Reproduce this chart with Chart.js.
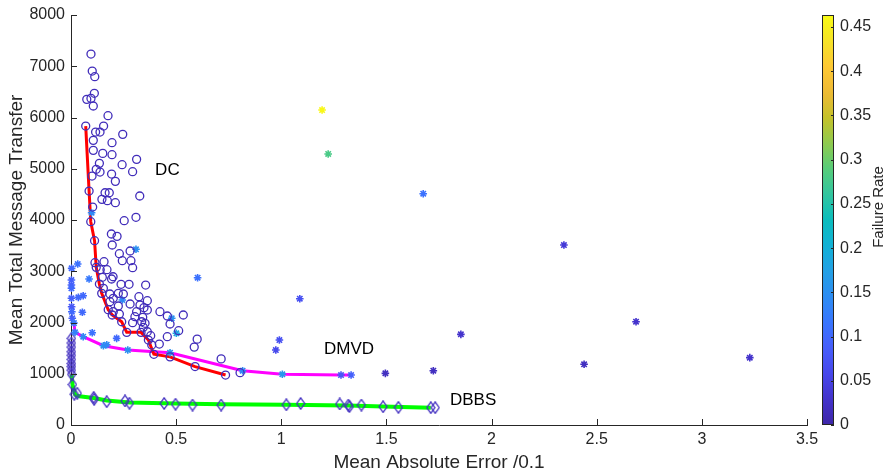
<!DOCTYPE html>
<html>
<head>
<meta charset="utf-8">
<script src="https://cdn.jsdelivr.net/npm/chart.js@4.4.1/dist/chart.umd.min.js"></script>
<style>
  html, body { margin: 0; padding: 0; background: #fff; }
  #wrap { width: 890px; height: 474px; position: relative; }
</style>
</head>
<body>
<div id="wrap"><canvas id="chart" width="890" height="474"></canvas></div>
<script>
// DC runs (circles)
const dcX = [0.095,0.101,0.113,0.111,0.075,0.095,0.106,0.176,0.070,0.155,0.117,0.138,0.246,0.106,0.195,0.106,0.151,0.195,0.312,0.135,
  0.243,0.120,0.138,0.293,0.100,0.193,0.211,0.086,0.162,0.182,0.327,0.147,0.173,0.211,0.103,0.309,0.253,0.094,0.112,0.192,
  0.219,0.196,0.281,0.230,0.244,0.285,0.114,0.157,0.293,0.120,0.139,0.171,0.200,0.149,0.193,0.238,0.276,0.355,0.154,0.135,
  0.146,0.185,0.225,0.249,0.201,0.185,0.323,0.363,0.281,0.225,0.177,0.328,0.347,0.201,0.230,0.312,0.304,0.363,0.341,0.423,
  0.458,0.534,0.471,0.512,0.458,0.293,0.336,0.352,0.344,0.265,0.333,0.363,0.379,0.368,0.420,0.384,0.394,0.471,0.590,0.600,
  0.586,0.714,0.735,0.804,0.241,0.196];
const dcY = [7238,6906,6796,6472,6354,6373,6224,6035,5833,5833,5716,5716,5671,5554,5508,5359,5300,5274,5183,5105,
  5079,4989,4936,4942,4858,4897,4754,4565,4532,4532,4468,4403,4377,4338,4253,4052,3986,3967,3596,3727,
  3681,3512,3395,3342,3206,3206,3167,3186,3069,3076,3030,3030,2893,2882,2849,2745,2745,2731,2667,2750,
  2569,2556,2569,2556,2472,2406,2503,2425,2361,2322,2250,2341,2290,2211,2166,2211,2113,2244,2101,2211,
  2127,2146,1971,1840,1723,1996,2015,1984,1906,1808,1808,1820,1742,1658,1580,1561,1380,1330,1140,1675,
  1520,1290,975,1021,2015,2146];
const dcFailRate = 0.015;

// DMVD runs (asterisks)
const dmvdX = [1.194,1.223,1.675,2.344,1.088,2.687,1.854,0.991,0.974,3.228,2.440,1.723,1.495,1.005,1.284,1.332,
  0.098,0.309,0.003,0.032,0.086,0.602,0.244,0.479,0.501,0.101,0.217,0.035,0.058,0.054,
  0.002,0.002,0.002,0.002,0.003,0.004,0.006,0.014,0.019,0.058,0.154,0.170,0.270,0.471,0.816];
const dmvdY = [6146,5288,4513,3512,2464,2015,1769,1658,1463,1314,1184,1060,1008,990,975,975,
  4142,3428,3057,3141,2849,2874,2439,2082,1789,1801,1691,2491,2523,2199,
  2829,2731,2667,2472,2308,2211,2082,1990,1808,1723,1547,1565,1463,1411,1060];
const dmvdFail = [0.46,0.28,0.11,0.04,0.07,0.03,0.03,0.07,0.06,0.03,0.02,0.02,0.02,0.16,0.08,0.09,
  0.14,0.15,0.10,0.11,0.12,0.11,0.14,0.15,0.18,0.11,0.10,0.10,0.10,0.10,
  0.09,0.09,0.10,0.09,0.08,0.10,0.09,0.12,0.13,0.14,0.15,0.14,0.15,0.15,0.14];

// DBBS runs (diamonds)
const dbbsX = [0.002,0.002,0.002,0.002,0.002,0.002,0.002,0.002,0.002,0.003,0.007,0.016,0.030,0.108,0.110,0.170,
  0.257,0.278,0.443,0.497,0.578,0.714,1.024,1.092,1.278,1.319,1.324,1.381,1.484,1.557,1.711,1.732];
const dbbsY = [1690,1600,1520,1430,1360,1280,1200,1140,1070,990,790,600,620,540,500,455,
  470,425,420,405,390,390,395,420,410,390,360,390,357,345,338,338];
const dbbsFailRate = 0.02;

// Pareto fronts
const dcFrontX = [0.070,0.086,0.094,0.112,0.120,0.135,0.146,0.177,0.196,0.241,0.265,0.333,0.368,0.394,0.471,0.590,0.735];
const dcFrontY = [5833,4565,3967,3596,3076,2750,2569,2250,2146,2015,1808,1808,1658,1380,1330,1140,975];
const dmvdFrontX = [0.014,0.019,0.058,0.154,0.270,0.471,0.816,1.005,1.284,1.332];
const dmvdFrontY = [1990,1808,1723,1547,1463,1411,1060,990,975,975];
const dbbsFrontX = [0.003,0.007,0.020,0.040,0.108,0.170,0.278,0.497,0.714,1.024,1.319,1.484,1.711];
const dbbsFrontY = [990,790,590,560,525,480,440,420,405,395,380,360,338];

const xTicks = [0, 0.5, 1, 1.5, 2, 2.5, 3, 3.5];
const yTicks = [0, 1000, 2000, 3000, 4000, 5000, 6000, 7000, 8000];
const cbTicks = [0, 0.05, 0.1, 0.15, 0.2, 0.25, 0.3, 0.35, 0.4, 0.45];
const cMax = 0.4636;

const labels = [
  { text: 'DC', x: 0.40, y: 4975 },
  { text: 'DMVD', x: 1.203, y: 1483 },
  { text: 'DBBS', x: 1.802, y: 488 }
];

// parula colormap
const parulaStops = [
  [0.2422,0.1504,0.6603],[0.2647,0.1978,0.7952],[0.2803,0.2782,0.9221],[0.2760,0.3667,0.9829],
  [0.2206,0.4603,0.9973],[0.1764,0.5499,0.9520],[0.1380,0.6276,0.8973],[0.0689,0.6948,0.8394],
  [0.0433,0.7411,0.7394],[0.1938,0.7758,0.6251],[0.3406,0.8008,0.4789],[0.5616,0.7942,0.3045],
  [0.7738,0.7598,0.1646],[0.9393,0.7288,0.2100],[0.9952,0.7893,0.2028],[0.9610,0.8890,0.1537],
  [0.9769,0.9839,0.0805]
];
function parula(t) {
  t = Math.max(0, Math.min(1, t));
  const n = parulaStops.length - 1;
  const p = t * n, i = Math.min(Math.floor(p), n - 1), f = p - i;
  const a = parulaStops[i], b = parulaStops[i + 1];
  const c = a.map((v, k) => Math.round((v + (b[k] - v) * f) * 255));
  return `rgb(${c[0]},${c[1]},${c[2]})`;
}
const failColor = f => parula(f / cMax);

function diamondImg(color) {
  const c = document.createElement('canvas');
  c.width = 10; c.height = 13;
  const g = c.getContext('2d');
  g.strokeStyle = color;
  g.lineWidth = 1.3;
  g.beginPath();
  g.moveTo(5, 0.8); g.lineTo(9, 6.5); g.lineTo(5, 12.2); g.lineTo(1, 6.5);
  g.closePath();
  g.stroke();
  return c;
}

const zip = (xs, ys) => xs.map((x, i) => ({ x, y: ys[i] }));
const FONT = "'Liberation Sans', Arial, Helvetica, sans-serif";
const AX = '#262626';

// keep the plot box where the reference has it
const noPad = s => { s.paddingTop = 0; s.paddingBottom = 0; };

const overlay = {
  id: 'overlay',
  afterDraw(chart) {
    const { ctx, chartArea, scales } = chart;
    ctx.save();
    // inward ticks
    ctx.strokeStyle = AX;
    ctx.lineWidth = 1;
    ctx.beginPath();
    xTicks.forEach(v => {
      const px = Math.round(scales.x.getPixelForValue(v)) + 0.5;
      ctx.moveTo(px, chartArea.bottom); ctx.lineTo(px, chartArea.bottom - 6);
    });
    yTicks.forEach(v => {
      const py = Math.round(scales.y.getPixelForValue(v)) + 0.5;
      ctx.moveTo(chartArea.left, py); ctx.lineTo(chartArea.left + 6, py);
    });
    ctx.stroke();

    // colorbar
    const cb = scales.cb;
    const x0 = chartArea.right + 15, w = 12;
    const yb = cb.getPixelForValue(0), yt = cb.getPixelForValue(cMax);
    const grad = ctx.createLinearGradient(0, yb, 0, yt);
    for (let i = 0; i <= 40; i++) grad.addColorStop(i / 40, parula(i / 40));
    ctx.fillStyle = grad;
    ctx.fillRect(x0, yt, w, yb - yt);
    ctx.strokeStyle = AX;
    ctx.strokeRect(x0 + 0.5, yt + 0.5, w - 1, yb - yt - 1);
    ctx.beginPath();
    cbTicks.forEach(v => {
      const py = Math.round(cb.getPixelForValue(v)) + 0.5;
      ctx.moveTo(x0 + w, py); ctx.lineTo(x0 + w - 3, py);
    });
    ctx.stroke();

    ctx.fillStyle = AX;
    ctx.font = `15px ${FONT}`;
    ctx.textAlign = 'center';
    ctx.textBaseline = 'middle';
    ctx.translate(879, 207);
    ctx.rotate(-Math.PI / 2);
    ctx.fillText('Failure Rate', 0, 0);
    ctx.restore();

    // series labels
    ctx.save();
    ctx.fillStyle = '#000';
    ctx.font = `17px ${FONT}`;
    ctx.textAlign = 'left';
    ctx.textBaseline = 'middle';
    labels.forEach(l => ctx.fillText(l.text, scales.x.getPixelForValue(l.x), scales.y.getPixelForValue(l.y)));
    ctx.restore();
  }
};

const tickFont = { family: FONT, size: 16 };
const titleFont = { family: FONT, size: 19 };

new Chart(document.getElementById('chart'), {
  type: 'scatter',
  data: {
    datasets: [
      { data: zip(dcFrontX, dcFrontY), showLine: true, borderColor: '#ff0000', borderWidth: 3, pointRadius: 0, order: 3, clip: false },
      { data: zip(dmvdFrontX, dmvdFrontY), showLine: true, borderColor: '#ff00ff', borderWidth: 3, pointRadius: 0, order: 3, clip: false },
      { data: zip(dbbsFrontX, dbbsFrontY), showLine: true, borderColor: '#00ff00', borderWidth: 4, pointRadius: 0, order: 3, clip: false },
      { data: zip(dcX, dcY), pointStyle: 'circle', pointRadius: 4, borderWidth: 1.3,
        borderColor: failColor(dcFailRate), backgroundColor: 'rgba(0,0,0,0)', order: 1, clip: false },
      { data: zip(dmvdX, dmvdY), pointStyle: 'star', pointRadius: 3.8, borderWidth: 1.6,
        borderColor: dmvdFail.map(failColor), backgroundColor: dmvdFail.map(failColor), order: 1, clip: false },
      { data: zip(dbbsX, dbbsY), pointStyle: diamondImg(failColor(dbbsFailRate)), pointRadius: 5, order: 1, clip: false }
    ]
  },
  options: {
    responsive: false,
    animation: false,
    events: [],
    layout: { padding: { top: 15, left: 0, right: 0, bottom: 0 } },
    plugins: { legend: { display: false }, tooltip: { enabled: false } },
    scales: {
      x: {
        type: 'linear', min: 0, max: 3.5,
        afterBuildTicks: s => { s.ticks = xTicks.map(v => ({ value: v })); },
        afterFit: s => { s.height = 49; },
        ticks: { font: tickFont, color: AX, padding: 5, maxRotation: 0, autoSkip: false, includeBounds: false, callback: v => String(v) },
        grid: { display: false, drawTicks: false },
        border: { display: true, color: AX, width: 1 },
        title: { display: true, text: 'Mean Absolute Error /0.1', font: titleFont, color: AX, padding: { top: 0, bottom: 0 } }
      },
      y: {
        type: 'linear', position: 'left', min: 0, max: 8000,
        afterBuildTicks: s => { s.ticks = yTicks.map(v => ({ value: v })); },
        afterFit: s => { s.width = 71; noPad(s); },
        ticks: { font: tickFont, color: AX, padding: 6, autoSkip: false, includeBounds: false, callback: v => String(v) },
        grid: { display: false, drawTicks: false },
        border: { display: true, color: AX, width: 1 },
        title: { display: true, text: 'Mean Total Message Transfer', font: titleFont, color: AX, padding: { top: 5, bottom: 0 } }
      },
      cb: {
        type: 'linear', position: 'right', min: 0, max: cMax,
        afterBuildTicks: s => { s.ticks = cbTicks.map(v => ({ value: v })); },
        afterFit: s => { s.width = 83; noPad(s); },
        ticks: { font: tickFont, color: AX, padding: 33, autoSkip: false, includeBounds: false, callback: v => String(+v.toFixed(2)) },
        grid: { display: false, drawTicks: false },
        border: { display: false }
      }
    }
  },
  plugins: [overlay]
});
</script>
</body>
</html>
